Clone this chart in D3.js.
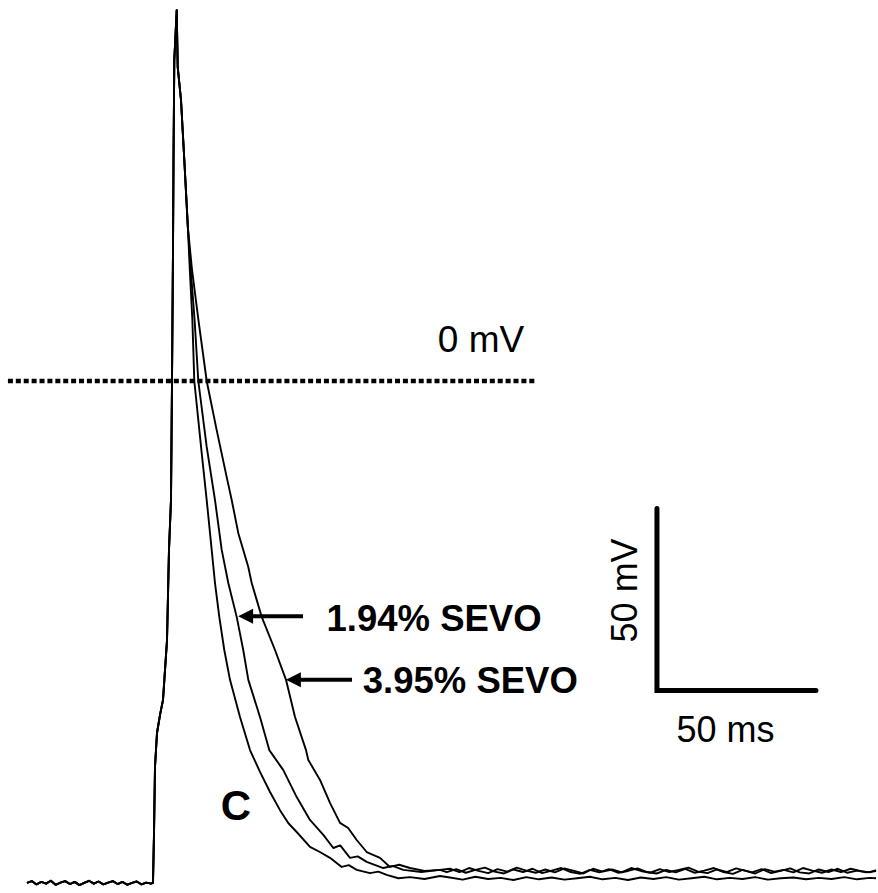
<!DOCTYPE html>
<html>
<head>
<meta charset="utf-8">
<script src="https://cdn.jsdelivr.net/npm/d3@7"></script>
<style>
  html, body { margin: 0; padding: 0; background: #fff; }
  svg { display: block; font-family: "Liberation Sans", Arial, sans-serif; }
</style>
</head>
<body>
<svg id="chart" width="878" height="893"></svg>
<script>
// ---- DATA (time in ms, membrane potential in mV) ----
const restingBaseline = [[0,-137.9],[1.5,-137.4],[3,-138.3],[4.5,-137.6],[6,-138.1],[7.5,-137.3],[9,-138.4],[10.5,-137.8],[12,-137.4],[13.5,-138.2],[15,-137.6],[16.5,-138.5],[18,-137.9],[19.5,-137.3],[21,-138.1],[22.5,-137.5],[24,-138.3],[25.5,-137.8],[27,-137.4],[28.5,-138.2],[30,-137.6],[31.5,-138.4],[33,-137.9],[34.5,-137.5],[36,-138.3],[37.5,-137.8],[39,-138.1],[39.62,-137.9]];

const upstrokePeak = [[39.94,-124.2],[40.25,-106.0],[40.88,-96.7],[41.82,-91.8],[42.77,-87.6],[44.03,-71.2],[44.65,-46.4],[45.28,-32.7],[45.60,0],[45.91,36.0],[46.07,60.7],[46.32,88.2],[47.08,101.9],[47.39,86.3],[48.43,77.2],[49.47,60.7],[50.6,42.0]];

const controlDecay = [[51.2,30.5],[52.0,16.8],[52.61,0],[54.94,-19.8],[56.51,-32.7],[58.08,-46.4],[59.12,-55.5],[60.47,-64.8],[62.04,-73.9],[63.84,-82.1],[66.98,-92.3],[70.13,-101.4],[73.27,-107.4],[76.42,-112.9],[79.56,-117.9],[82.2,-121.5],[84.81,-123.9],[88.99,-128.0],[92.1,-129.4],[95.28,-131.0],[98.96,-133.5],[101.2,-133.0],[103.68,-134.3],[107.86,-135.2],[110.5,-134.8],[113.11,-135.7],[116.8,-136.6],[120.44,-136.3],[125.0,-136.8],[129.87,-136.0],
[133,-136.4],[137,-137.0],[141,-136.2],[145,-136.8],[149,-136.5],[153,-137.1],[157,-136.3],[161,-136.9],[165,-136.4],[169,-137.0],[173,-136.6],[177,-136.2],[181,-136.9],[185,-136.5],[189,-137.1],[193,-136.4],[197,-136.8],[201,-136.3],[205,-137.0],[209,-136.6],[213,-136.2],[217,-136.9],[221,-136.5],[225,-136.8],[229,-136.3],[233,-137.0],[237,-136.6],[241,-136.4],[245,-136.9],[249,-136.5],[253,-136.8],[257,-136.3],[261,-136.9],[265,-136.5],[267,-136.6]];

const sevo194Decay = [[51.5,30.5],[52.7,16.8],[53.87,0],[56.51,-18.1],[59.12,-32.7],[61.23,-46.4],[63.30,-55.5],[65.94,-64.8],[68.0,-73.9],[69.6,-82.1],[73.27,-92.3],[76.19,-101.4],[80.60,-106.9],[84.81,-114.3],[88.99,-120.6],[93.18,-124.7],[96.32,-128.3],[98.5,-127.6],[101.57,-131.0],[104.0,-130.6],[106.82,-132.1],[112.04,-133.8],[115.0,-133.2],[118.33,-134.3],[124.0,-134.9],[129.87,-134.3],
[132,-134.9],[135,-134.1],[138,-135.1],[141,-134.3],[144,-133.7],[147,-134.8],[150,-135.3],[153,-134.2],[156,-134.9],[159,-134.0],[162,-135.2],[165,-134.5],[168,-133.8],[171,-134.9],[174,-135.4],[177,-134.3],[180,-135.0],[183,-134.1],[186,-135.1],[189,-134.6],[192,-133.9],[195,-134.9],[198,-135.3],[201,-134.3],[204,-135.0],[207,-134.0],[210,-135.1],[213,-134.5],[216,-133.8],[219,-134.9],[222,-135.4],[225,-134.3],[228,-135.0],[231,-134.1],[234,-135.2],[237,-134.6],[240,-133.9],[243,-135.0],[246,-135.3],[249,-134.2],[252,-134.9],[255,-134.0],[258,-135.1],[261,-134.5],[264,-135.0],[267,-134.6]];

const sevo395Decay = [[51.9,30.5],[53.9,16.8],[56.51,0],[59.65,-13.5],[62.80,-26.4],[64.37,-32.7],[66.45,-41.8],[69.59,-51.1],[70.66,-55.5],[73.81,-64.8],[77.99,-73.9],[81.45,-82.1],[84.28,-92.3],[87.74,-101.4],[88.46,-104.1],[92.14,-109.6],[95.28,-115.9],[98.43,-121.4],[101.0,-122.8],[103.68,-126.1],[106.82,-129.4],[111.01,-131.0],[114.15,-133.5],[117.0,-132.9],[120.44,-133.8],[125.0,-134.6],[129.87,-134.3],
[133,-134.0],[136,-134.9],[139,-133.8],[142,-134.6],[145,-135.2],[148,-134.1],[151,-134.8],[154,-133.7],[157,-134.5],[160,-135.1],[163,-134.2],[166,-135.0],[169,-133.9],[172,-134.6],[175,-135.3],[178,-134.0],[181,-134.8],[184,-134.2],[187,-135.0],[190,-133.8],[193,-134.6],[196,-135.1],[199,-134.1],[202,-134.9],[205,-134.3],[208,-133.7],[211,-134.8],[214,-135.2],[217,-134.2],[220,-134.9],[223,-133.9],[226,-134.6],[229,-135.3],[232,-134.1],[235,-134.8],[238,-134.3],[241,-135.0],[244,-133.8],[247,-134.5],[250,-135.1],[253,-134.2],[256,-134.9],[259,-134.0],[262,-134.6],[265,-135.0],[267,-134.4]];

const seriesNames = ["C", "1.94% SEVO", "3.95% SEVO"];
const zeroLineRange = [-6.0, 160.4];     // ms extent of 0 mV reference line
const zeroLabel = "0 mV";
const scaleBarMs = 50;
const scaleBarMv = 50;
const scaleBarLabels = ["50 mV", "50 ms"];

// ---- SCALES ----
const W = 878, H = 893;
const x = d3.scaleLinear().domain([-8.49, 267.61]).range([0, W]);
const y = d3.scaleLinear().domain([-140.66, 104.67]).range([H, 0]);

const svg = d3.select("#chart");
const line = d3.line().x(d => x(d[0])).y(d => y(d[1]));

// ---- TRACES ----
const traces = [
  restingBaseline.concat(upstrokePeak, controlDecay),
  restingBaseline.concat(upstrokePeak, sevo194Decay),
  restingBaseline.concat(upstrokePeak, sevo395Decay)
];
svg.append("g").selectAll("path").data(traces).join("path")
  .attr("d", line)
  .attr("fill", "none")
  .attr("stroke", "#000")
  .attr("stroke-width", 1.9)
  .attr("stroke-linejoin", "round");

// ---- 0 mV dotted reference ----
svg.append("line")
  .attr("x1", x(zeroLineRange[0])).attr("x2", x(zeroLineRange[1]))
  .attr("y1", y(0)).attr("y2", y(0))
  .attr("stroke", "#000").attr("stroke-width", 4.5)
  .attr("stroke-dasharray", "5,2.9");
svg.append("text")
  .attr("x", x(129.2)).attr("y", y(8.0))
  .attr("font-size", 37).text(zeroLabel);

// ---- Arrows & labels ----
function arrow(tipT, tailT, v) {
  const ty = y(v), tx = x(tipT), ex = x(tailT);
  svg.append("line").attr("x1", tx + 12).attr("x2", ex)
    .attr("y1", ty).attr("y2", ty)
    .attr("stroke", "#000").attr("stroke-width", 4);
  svg.append("path")
    .attr("d", `M${tx},${ty} L${tx + 15},${ty - 7.5} L${tx + 15},${ty + 7.5} Z`)
    .attr("fill", "#000");
}
arrow(66.4, 86.8, -64.6);
arrow(81.4, 102.2, -82.1);

svg.append("text").attr("x", x(94.2)).attr("y", y(-68.6))
  .attr("font-size", 36.5).attr("font-weight", "bold").text(seriesNames[1]);
svg.append("text").attr("x", x(105.6)).attr("y", y(-85.6))
  .attr("font-size", 36.5).attr("font-weight", "bold").text(seriesNames[2]);
svg.append("text").attr("x", x(60.9)).attr("y", y(-120.6))
  .attr("font-size", 42).attr("font-weight", "bold").text(seriesNames[0]);

// ---- Scale bar ----
const sbT = 198.1, sbV = -85;
svg.append("path")
  .attr("d", `M${x(sbT)},${y(sbV + scaleBarMv)} L${x(sbT)},${y(sbV)} L${x(sbT + scaleBarMs)},${y(sbV)}`)
  .attr("fill", "none").attr("stroke", "#000").attr("stroke-width", 5)
  .attr("stroke-linecap", "round").attr("stroke-linejoin", "miter");

svg.append("text")
  .attr("transform", `translate(${x(sbT) - 20},${y(sbV + scaleBarMv / 2) - 9}) rotate(-90)`)
  .attr("text-anchor", "middle").attr("font-size", 36).text(scaleBarLabels[0]);
svg.append("text")
  .attr("x", x(sbT + scaleBarMs / 2) - 11).attr("y", y(sbV) + 52)
  .attr("text-anchor", "middle").attr("font-size", 36).text(scaleBarLabels[1]);
</script>
</body>
</html>
